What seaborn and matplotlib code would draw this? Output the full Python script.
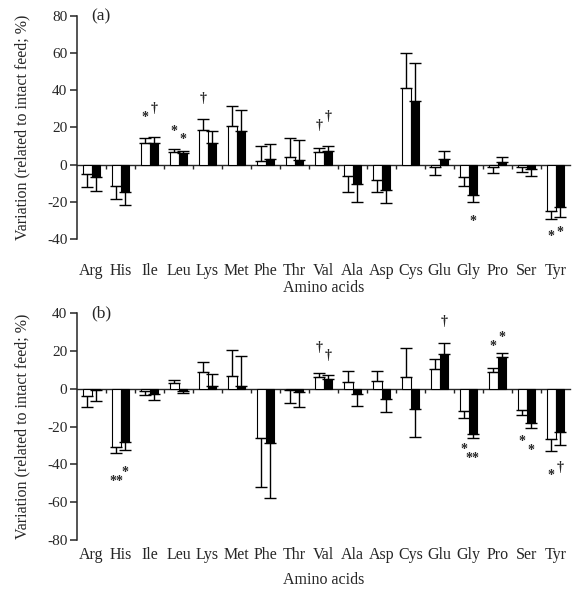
import matplotlib
matplotlib.use("Agg")
import matplotlib.pyplot as plt
import numpy as np
import pandas as pd
import seaborn as sns

amino = ["Arg", "His", "Ile", "Leu", "Lys", "Met", "Phe", "Thr", "Val",
         "Ala", "Asp", "Cys", "Glu", "Gly", "Pro", "Ser", "Tyr"]
groups = ["open", "filled"]

# panel (a)
a_open = [-5.2, -11.6, 11.4, 6.8, 18.5, 21.0, 2.0, 4.3, 6.8, -6.0, -8.4, 41.0, -1.0, -6.6, -1.2, -1.0, -24.7]
a_open_se = [6.7, 6.7, 3.0, 1.6, 6.0, 10.8, 7.8, 10.1, 2.4, 8.6, 6.2, 19.3, 4.5, 4.8, 3.1, 2.9, 4.8]
a_filled = [-6.6, -14.9, 11.4, 6.2, 11.4, 18.0, 3.2, 2.7, 7.6, -10.5, -13.7, 34.3, 2.8, -16.4, 1.4, -2.1, -22.9]
a_filled_se = [7.8, 6.6, 3.5, 1.4, 6.6, 11.2, 8.0, 10.6, 2.2, 9.5, 6.9, 20.3, 4.7, 3.9, 2.9, 3.9, 5.4]
a_marks = [("Ile", 0, "*", 25.4), ("Ile", 1, "\u2020", 30.4), ("Leu", 0, "*", 18.0),
           ("Leu", 1, "*", 13.7), ("Lys", 0, "\u2020", 35.7), ("Val", 0, "\u2020", 21.0),
           ("Val", 1, "\u2020", 26.0), ("Gly", 1, "*", -30.6), ("Tyr", 0, "*", -38.4),
           ("Tyr", 1, "*", -36.3)]

# panel (b)
b_open = [-4.0, -31.0, -1.0, 3.0, 9.0, 6.5, -26.0, -0.5, 6.2, 3.7, 4.1, 6.4, 10.4, -12.0, 9.0, -11.5, -26.5]
b_open_se = [5.7, 3.2, 2.5, 1.8, 5.0, 13.9, 25.9, 7.1, 2.3, 5.7, 5.3, 15.2, 5.5, 3.4, 1.8, 2.3, 6.2]
b_filled = [-0.5, -28.3, -3.0, -1.0, 1.5, 1.5, -28.8, -1.8, 5.1, -2.7, -5.7, -10.8, 18.2, -23.9, 16.5, -17.9, -23.0]
b_filled_se = [6.2, 4.1, 3.2, 1.3, 6.5, 15.7, 29.1, 7.9, 2.0, 6.7, 6.7, 14.9, 6.0, 2.3, 2.1, 2.8, 6.6]
b_marks = [("His", 0, "**", -49.2), ("His", 1, "*", -44.4), ("Val", 0, "\u2020", 21.6),
           ("Val", 1, "\u2020", 17.7), ("Glu", 1, "\u2020", 35.4), ("Gly", 0, "*", -31.9),
           ("Gly", 1, "**", -36.8), ("Pro", 0, "*", 22.5), ("Pro", 1, "*", 27.0),
           ("Ser", 0, "*", -28.0), ("Ser", 1, "*", -32.7), ("Tyr", 0, "*", -46.0),
           ("Tyr", 1, "\u2020", -41.6)]

sns.set_style("ticks")
plt.rcParams["font.family"] = ["Liberation Serif", "DejaVu Serif"]
plt.rcParams["font.size"] = 11
plt.rcParams["axes.unicode_minus"] = False

fig = plt.figure(figsize=(5.73, 5.92), dpi=100)
ax_a = fig.add_axes([0.1344, 0.5963, 0.8604, 0.3767])
ax_b = fig.add_axes([0.1344, 0.0878, 0.8604, 0.3835])


def draw_panel(ax, v_open, se_open, v_filled, se_filled, marks, ylim, tag, lab_pad, xl_pad):
    df = pd.DataFrame({
        "amino": amino * 2,
        "group": [groups[0]] * len(amino) + [groups[1]] * len(amino),
        "value": v_open + v_filled,
    })
    sns.barplot(data=df, x="amino", y="value", hue="group", order=amino,
                hue_order=groups, palette={"open": "white", "filled": "black"},
                saturation=1, edgecolor="black", linewidth=0.8, width=0.6,
                errorbar=None, legend=False, ax=ax, zorder=2)
    centers = []
    for cont, vals, se in zip(ax.containers, [v_open, v_filled], [se_open, se_filled]):
        xs = np.array([p.get_x() + p.get_width() / 2 for p in cont])
        vals = np.array(vals)
        se = np.array(se)
        lower = np.where(vals < 0, se, 0)
        upper = np.where(vals >= 0, se, 0)
        ax.errorbar(xs, vals, yerr=[lower, upper], fmt="none", ecolor="black",
                    elinewidth=1.0, capsize=4, capthick=1.0, zorder=3)
        centers.append(xs)
    for name, g, sym, y in marks:
        ax.text(centers[g][amino.index(name)], y, sym, ha="center", va="center",
                fontsize=10, fontweight="bold", zorder=4)

    ax.set_xlim(-0.5, len(amino) - 0.5)
    ax.set_ylim(*ylim)
    ax.set_yticks(np.arange(ylim[0], ylim[1] + 1, 20))
    for s in ["top", "right", "bottom"]:
        ax.spines[s].set_visible(False)
    ax.spines["left"].set_linewidth(1.1)
    ax.tick_params(axis="y", direction="out", length=5, width=1.1, labelsize=11, pad=2)
    ax.tick_params(axis="x", length=0, labelsize=11.5, pad=lab_pad)

    # zero line with ticks between the amino acid groups
    zero = ax.secondary_xaxis(0, transform=ax.transData)
    zero.set_xticks(np.arange(0.5, len(amino) - 1, 1.0))
    zero.set_xticklabels([])
    zero.tick_params(direction="out", length=3, width=1.0)
    zero.spines["bottom"].set_linewidth(1.0)

    ax.set_xlabel("Amino acids", fontsize=11.5, labelpad=xl_pad)
    ax.set_ylabel("Variation (related to intact feed; %)", fontsize=11.5)
    ax.yaxis.set_label_coords(-0.095, 0.5)
    ax.text(0.028, 1.0, tag, transform=ax.transAxes, ha="left", va="center", fontsize=12.5)


draw_panel(ax_a, a_open, a_open_se, a_filled, a_filled_se, a_marks, (-40, 80), "(a)", 17, 1)
draw_panel(ax_b, b_open, b_open_se, b_filled, b_filled_se, b_marks, (-80, 40), "(b)", 5, 6.5)

fig.savefig("out.png", dpi=100)
